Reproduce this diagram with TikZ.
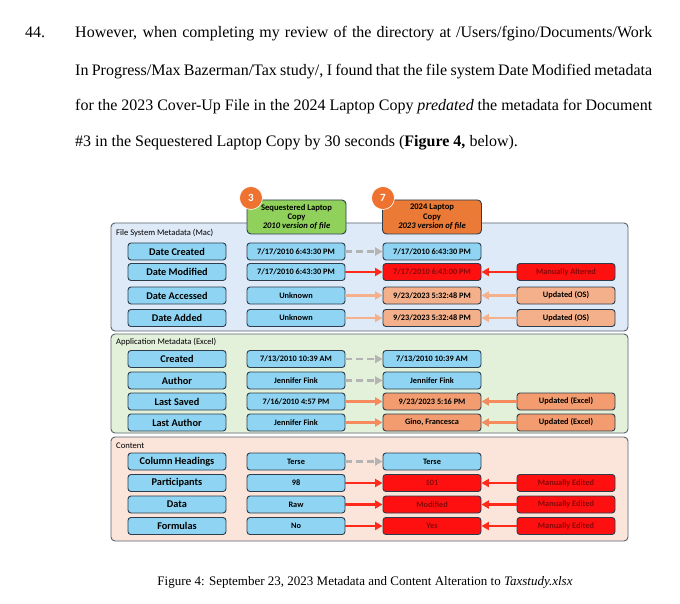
\documentclass[tikz,border=0pt]{standalone}
\usepackage{fontspec}
\setmainfont{Liberation Serif}
\newfontfamily\diagfont{Carlito}
\usetikzlibrary{arrows.meta}
\definecolor{panelline}{HTML}{59636D}
\definecolor{boxline}{HTML}{2E3D4C}
\definecolor{panelblue}{HTML}{DEEAF7}
\definecolor{panelgreen}{HTML}{E3F0DA}
\definecolor{panelpink}{HTML}{FBE4DA}
\definecolor{cellblue}{HTML}{8FD4F2}
\definecolor{cellsalmon}{HTML}{F4B08A}
\definecolor{cellorange}{HTML}{F29C70}
\definecolor{cellred}{HTML}{FF1010}
\definecolor{textred}{HTML}{8A0808}
\definecolor{headgreen}{HTML}{8FD15A}
\definecolor{headorange}{HTML}{EB7A36}
\definecolor{badge}{HTML}{EE7330}
\definecolor{arrowgray}{HTML}{B4B4B4}
\definecolor{arrowsalmon}{HTML}{F4B18C}
\definecolor{arroworange}{HTML}{F58A5E}
\definecolor{arrowred}{HTML}{FF2A1A}
\tikzset{
  panel/.style={draw=panelline, line width=0.9pt, rounded corners=4pt},
  paneltitle/.style={anchor=west, inner sep=0pt, font=\diagfont\fontsize{8.6}{9}\selectfont},
  keybox/.style={draw=boxline, line width=0.9pt, rounded corners=3pt, fill=cellblue,
    minimum width=98pt, minimum height=17pt, inner sep=0pt, font=\diagfont\bfseries\fontsize{10.3}{11}\selectfont},
  valbox/.style={keybox, font=\diagfont\bfseries\fontsize{8.3}{9}\selectfont},
  osbox/.style={valbox, fill=cellsalmon},
  xlbox/.style={valbox, fill=cellorange},
  redbox/.style={valbox, fill=cellred, text=textred},
  headbox/.style={draw=boxline, line width=0.9pt, rounded corners=4pt, minimum width=99pt,
    minimum height=34pt, inner sep=1pt, align=center, font=\diagfont\bfseries\fontsize{8.6}{9.4}\selectfont},
  badgenode/.style={circle, fill=badge, draw=white, line width=0.6pt, minimum size=23pt, inner sep=0pt,
    text=white, font=\diagfont\bfseries\fontsize{11}{11}\selectfont},
  tip/.style={-{Triangle[length=7.5pt,width=8pt]}},
  same/.style={tip, draw=arrowgray, line width=2.4pt, dash pattern=on 7pt off 4pt},
  osflow/.style={tip, draw=arrowsalmon, line width=2.4pt},
  xlflow/.style={tip, draw=arroworange, line width=2.4pt},
  redflow/.style={tip, draw=arrowred, line width=2.4pt},
  para/.style={anchor=base west, inner sep=0pt, font=\fontsize{16}{18}\selectfont}
}
\begin{document}
\begin{tikzpicture}[x=1pt, y=-1pt]
\useasboundingbox[fill=white] (0,0) rectangle (680,604);

% paragraph
\node[para] (num) at (25,38) {44.};
\node[para] (line1) at (75,38) {\makebox[577pt][s]{However, when completing my review of the directory at /Users/fgino/Documents/Work}};
\node[para] (line2) at (75,76) {\makebox[577pt][s]{In Progress/Max Bazerman/Tax study/, I found that the file system Date Modified metadata}};
\node[para] (line3) at (75,111) {\makebox[577pt][s]{for the 2023 Cover-Up File in the 2024 Laptop Copy \textit{predated} the metadata for Document}};
\node[para] (line4) at (75,147) {\#3 in the Sequestered Laptop Copy by 30 seconds (\textbf{Figure 4,} below).};

% panels
\draw[panel, fill=panelblue] (111,223) rectangle (628,331);
\draw[panel, fill=panelgreen] (111,334) rectangle (628,433);
\draw[panel, fill=panelpink] (111,437) rectangle (628,541);
\node[paneltitle] (fsmeta) at (116,233) {File System Metadata (Mac)};
\node[paneltitle] (appmeta) at (116,342) {Application Metadata (Excel)};
\node[paneltitle] (content) at (116,446) {Content};

% column heads
\node[headbox, fill=headgreen] (seqhead) at (296.5,217) {Sequestered Laptop\\Copy\\\textit{2010 version of file}};
\node[headbox, fill=headorange] (laphead) at (432,217) {2024 Laptop\\Copy\\\textit{2023 version of file}};
\node[badgenode] (badge3) at (251,198) {3};
\node[badgenode] (badge7) at (383,198) {7};

% file system rows
\node[keybox] (k1) at (177,251.5) {Date Created};
\node[valbox] (s1) at (296,251.5) {7/17/2010 6:43:30 PM};
\node[valbox] (l1) at (432,251.5) {7/17/2010 6:43:30 PM};
\node[keybox] (k2) at (177,272) {Date Modified};
\node[valbox] (s2) at (296,272) {7/17/2010 6:43:30 PM};
\node[redbox] (l2) at (432,272) {7/17/2010 6:43:00 PM};
\node[redbox] (n2) at (566,272) {Manually Altered};
\node[keybox] (k3) at (177,295.5) {Date Accessed};
\node[valbox] (s3) at (296,295.5) {Unknown};
\node[osbox] (l3) at (432,295.5) {9/23/2023 5:32:48 PM};
\node[osbox] (n3) at (566,295.5) {Updated (OS)};
\node[keybox] (k4) at (177,318) {Date Added};
\node[valbox] (s4) at (296,318) {Unknown};
\node[osbox] (l4) at (432,318) {9/23/2023 5:32:48 PM};
\node[osbox] (n4) at (566,318) {Updated (OS)};

% application rows
\node[keybox] (k5) at (177,359) {Created};
\node[valbox] (s5) at (296,359) {7/13/2010 10:39 AM};
\node[valbox] (l5) at (432,359) {7/13/2010 10:39 AM};
\node[keybox] (k6) at (177,380.5) {Author};
\node[valbox] (s6) at (296,380.5) {Jennifer Fink};
\node[valbox] (l6) at (432,380.5) {Jennifer Fink};
\node[keybox] (k7) at (177,401.5) {Last Saved};
\node[valbox] (s7) at (296,401.5) {7/16/2010 4:57 PM};
\node[xlbox] (l7) at (432,401.5) {9/23/2023 5:16 PM};
\node[xlbox] (n7) at (566,401.5) {Updated (Excel)};
\node[keybox] (k8) at (177,422.5) {Last Author};
\node[valbox] (s8) at (296,422.5) {Jennifer Fink};
\node[xlbox] (l8) at (432,422.5) {Gino, Francesca};
\node[xlbox] (n8) at (566,422.5) {Updated (Excel)};

% content rows
\node[keybox] (k9) at (177,461.5) {Column Headings};
\node[valbox] (s9) at (296,461.5) {Terse};
\node[valbox] (l9) at (432,461.5) {Terse};
\node[keybox] (k10) at (177,483) {Participants};
\node[valbox] (s10) at (296,483) {98};
\node[redbox] (l10) at (432,483) {101};
\node[redbox] (n10) at (566,483) {Manually Edited};
\node[keybox] (k11) at (177,504.5) {Data};
\node[valbox] (s11) at (296,504.5) {Raw};
\node[redbox] (l11) at (432,504.5) {Modified};
\node[redbox] (n11) at (566,504.5) {Manually Edited};
\node[keybox] (k12) at (177,526) {Formulas};
\node[valbox] (s12) at (296,526) {No};
\node[redbox] (l12) at (432,526) {Yes};
\node[redbox] (n12) at (566,526) {Manually Edited};

% arrows
\draw[same] (s1.east) -- (l1.west);
\draw[redflow] (s2.east) -- (l2.west);
\draw[redflow] (n2.west) -- (l2.east);
\draw[osflow] (s3.east) -- (l3.west);
\draw[osflow] (n3.west) -- (l3.east);
\draw[osflow] (s4.east) -- (l4.west);
\draw[osflow] (n4.west) -- (l4.east);
\draw[same] (s5.east) -- (l5.west);
\draw[same] (s6.east) -- (l6.west);
\draw[xlflow] (s7.east) -- (l7.west);
\draw[xlflow] (n7.west) -- (l7.east);
\draw[xlflow] (s8.east) -- (l8.west);
\draw[xlflow] (n8.west) -- (l8.east);
\draw[same] (s9.east) -- (l9.west);
\draw[redflow] (s10.east) -- (l10.west);
\draw[redflow] (n10.west) -- (l10.east);
\draw[redflow] (s11.east) -- (l11.west);
\draw[redflow] (n11.west) -- (l11.east);
\draw[redflow] (s12.east) -- (l12.west);
\draw[redflow] (n12.west) -- (l12.east);

% caption
\node[anchor=base, inner sep=0pt, font=\fontsize{13}{15}\selectfont] (caption) at (365,585)
  {Figure 4: September 23, 2023 Metadata and Content Alteration to \textit{Taxstudy.xlsx}};
\end{tikzpicture}
\end{document}
